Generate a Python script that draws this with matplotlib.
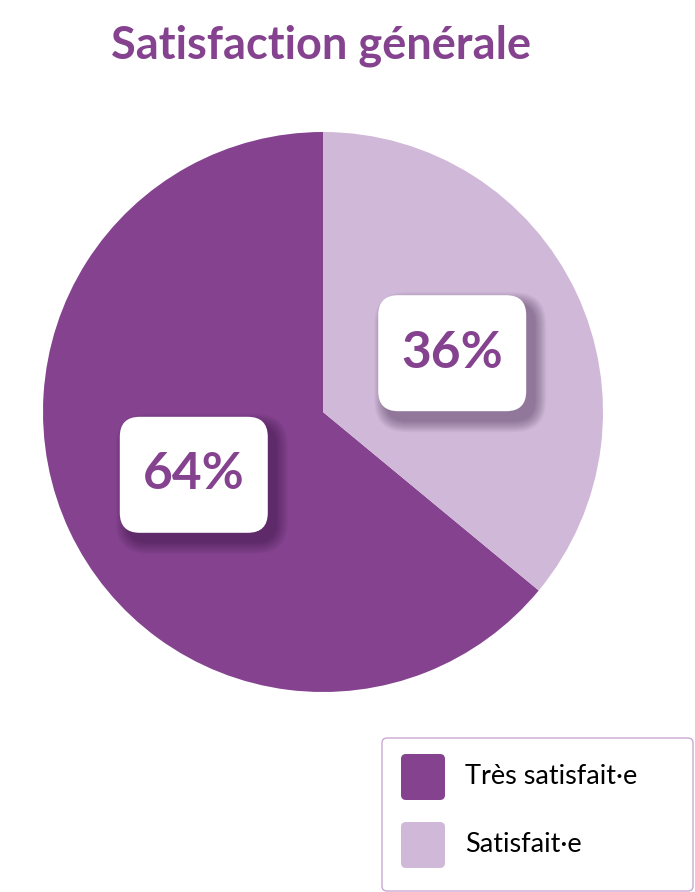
import numpy as np
import matplotlib.pyplot as plt
from matplotlib.patches import FancyBboxPatch

# Data
labels = ["Très satisfait·e", "Satisfait·e"]
values = [64, 36]
colors = ["#84428F", "#D0B8D8"]
text_purple = "#84428F"

W, H = 695, 892
fig = plt.figure(figsize=(W / 100, H / 100), dpi=100)
ax = fig.add_axes([0, 0, 1, 1])

# Pie, in pixel-like coordinates (y measured from the bottom)
cx, cy, r = 323, H - 412, 280
wedges, _ = ax.pie(values, colors=colors, startangle=90, counterclock=True,
                   radius=r, center=(cx, cy), frame=True,
                   wedgeprops=dict(linewidth=0))
ax.set_xlim(0, W)
ax.set_ylim(0, H)
ax.set_aspect("equal")
ax.axis("off")

# Percentage labels in rounded white boxes with soft shadow
bw, bh = 148, 116
for w, v in zip(wedges, values):
    ang = np.deg2rad((w.theta1 + w.theta2) / 2)
    dist = 0.51 * r
    lx = cx + dist * np.cos(ang)
    ly = cy + dist * np.sin(ang) - 2
    for i in range(12):
        grow = 12 - i
        ax.add_patch(FancyBboxPatch(
            (lx - bw / 2 + 8 - grow, ly - bh / 2 - 9 - grow), bw + 2 * grow, bh + 2 * grow,
            boxstyle="round,pad=0,rounding_size=%d" % (20 + grow),
            facecolor="#2a0f33", edgecolor="none", alpha=0.035, zorder=3))
    ax.add_patch(FancyBboxPatch(
        (lx - bw / 2, ly - bh / 2), bw, bh,
        boxstyle="round,pad=0,rounding_size=20",
        facecolor="white", edgecolor="none", zorder=4))
    ax.text(lx, ly, f"{v}%", ha="center", va="center", fontsize=37,
            fontweight="bold", family="Lato", color=text_purple, zorder=5)

# Title
ax.text(321, H - 46, "Satisfaction générale", ha="center", va="center",
        fontsize=32.5, fontweight="bold", family="Lato", color=text_purple)

# Legend
ax.add_patch(FancyBboxPatch((382, H - 891), 311, 153,
                            boxstyle="round,pad=0,rounding_size=5",
                            facecolor="white", edgecolor="#C9A9D3",
                            linewidth=1, zorder=2))
for i, (lab, col) in enumerate(zip(labels, colors)):
    yc = H - (777 + i * 68)
    ax.add_patch(FancyBboxPatch((401, yc - 23), 44, 46,
                                boxstyle="round,pad=0,rounding_size=5",
                                facecolor=col, edgecolor="none", zorder=3))
    ax.text(465, yc, lab, ha="left", va="center", fontsize=19.5,
            family="Lato", color="black", zorder=3)

fig.savefig("out.png", dpi=100)
